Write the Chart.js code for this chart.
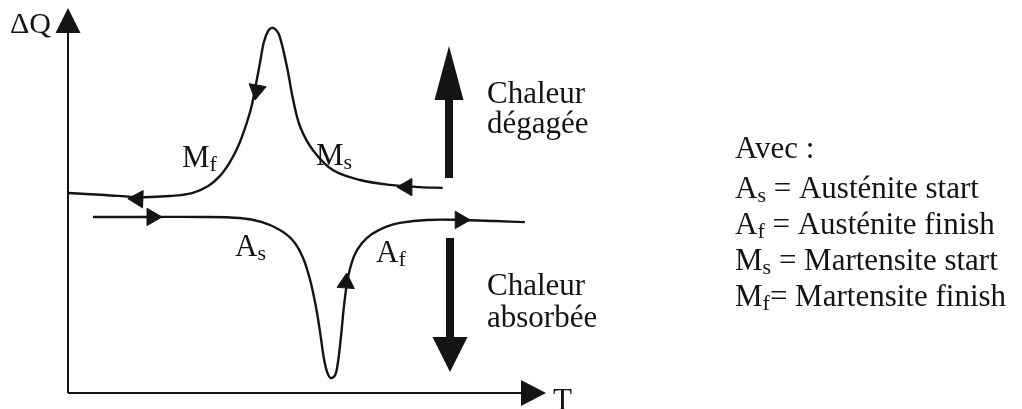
<!DOCTYPE html>
<html>
<head>
<meta charset="utf-8">
<script src="https://cdn.jsdelivr.net/npm/chart.js@4.4.1/dist/chart.umd.min.js"></script>
<style>
html, body { margin: 0; padding: 0; background: #fff; overflow: hidden; }
canvas { display: block; }
</style>
</head>
<body>
<canvas id="dsc" width="1022" height="409"></canvas>
<script>
// Courbe de refroidissement (martensite), parcourue de droite a gauche
var coolT = [79.4, 74.6, 68.2, 61.9, 56.1, 51.9, 49.2, 47.7, 46.4, 44.9, 44.1, 43.2, 42.4, 41.5, 40.7, 39.8, 38.8, 37.5, 36.0, 34.3, 32.2, 29.7, 26.3, 21.6, 15.3, 7.8, 0];
var coolQ = [55.0, 55.2, 55.8, 57.1, 59.8, 65.1, 71.3, 78.6, 87.4, 95.4, 97.3, 97.9, 97.1, 94.1, 88.7, 82.6, 76.4, 71.0, 66.0, 61.9, 58.2, 55.5, 53.6, 52.8, 52.5, 53.1, 53.6];

// Courbe de chauffage (austenite), parcourue de gauche a droite
var heatT = [5.3, 17.4, 28.0, 36.4, 41.1, 44.9, 47.7, 49.8, 51.3, 52.5, 53.4, 54.2, 54.9, 55.7, 56.6, 57.2, 57.8, 58.5, 59.3, 60.6, 62.3, 64.4, 67.2, 70.3, 76.1, 83.1, 90.5, 96.8];
var heatQ = [47.2, 47.2, 47.2, 46.9, 45.8, 43.7, 40.8, 36.2, 30.3, 23.3, 16.4, 9.4, 5.6, 4.0, 4.8, 8.3, 14.7, 23.6, 30.8, 36.7, 40.2, 42.6, 44.5, 45.6, 46.4, 46.4, 46.1, 45.8];

// Fleches de sens de parcours sur les courbes
var coolArrowT = [71.8, 40.0, 14.8];
var coolArrowQ = [55.2, 81.2, 52.0];
var coolArrowRot = [270, 190, 272];
var heatArrowT = [17.8, 58.9, 83.1];
var heatArrowQ = [47.2, 29.5, 46.4];
var heatArrowRot = [90, 4, 90];

var legendLines = [
	['A', 's', ' = Austénite start'],
	['A', 'f', ' = Austénite finish'],
	['M', 's', ' = Martensite start'],
	['M', 'f', '= Martensite finish']
];

function pts(xs, ys) {
	return xs.map(function (x, i) { return {x: x, y: ys[i]}; });
}

var INK = '#141414';
var SERIF = '"Liberation Serif", "Times New Roman", serif';

function subText(ctx, main, sub, x, y, size) {
	ctx.font = size + 'px ' + SERIF;
	ctx.fillText(main, x, y);
	var w = ctx.measureText(main).width;
	var s = Math.round(size * 0.7);
	ctx.font = s + 'px ' + SERIF;
	ctx.fillText(sub, x + w, y + size * 0.14);
	return x + w + ctx.measureText(sub).width;
}

function bigArrow(ctx, x, yStart, yBase, yTip, shaftW, headW) {
	ctx.fillRect(x - shaftW / 2, Math.min(yStart, yBase), shaftW, Math.abs(yBase - yStart));
	ctx.beginPath();
	ctx.moveTo(x - headW / 2, yBase);
	ctx.lineTo(x + headW / 2, yBase);
	ctx.lineTo(x, yTip);
	ctx.closePath();
	ctx.fill();
}

var schema = {
	id: 'schema',
	afterDatasetsDraw: function (chart) {
		var ctx = chart.ctx;
		var xs = chart.scales.x, ys = chart.scales.y;
		var x0 = xs.getPixelForValue(0), y0 = ys.getPixelForValue(0);
		ctx.save();
		ctx.strokeStyle = INK;
		ctx.fillStyle = INK;
		ctx.lineWidth = 2;
		// axes
		ctx.beginPath();
		ctx.moveTo(x0, y0);
		ctx.lineTo(x0, 30);
		ctx.moveTo(x0, y0);
		ctx.lineTo(524, y0);
		ctx.stroke();
		ctx.beginPath();
		ctx.moveTo(x0 - 12.5, 33);
		ctx.lineTo(x0 + 12.5, 33);
		ctx.lineTo(x0, 8);
		ctx.closePath();
		ctx.fill();
		ctx.beginPath();
		ctx.moveTo(521, y0 - 13);
		ctx.lineTo(521, y0 + 13);
		ctx.lineTo(546, y0);
		ctx.closePath();
		ctx.fill();

		// grosses fleches
		bigArrow(ctx, 449, 178, 100, 46, 8, 29);
		bigArrow(ctx, 450, 238, 337, 372, 8, 35);

		// textes
		ctx.textBaseline = 'alphabetic';
		ctx.font = '30px ' + SERIF;
		ctx.fillText('\u0394Q', 10, 33);
		ctx.font = '31px ' + SERIF;
		ctx.fillText('T', 553, 410);
		ctx.fillText('Chaleur', 487, 103);
		ctx.fillText('dégagée', 487, 133);
		ctx.fillText('Chaleur', 487, 295);
		ctx.fillText('absorbée', 487, 327);

		subText(ctx, 'M', 'f', 182, 167, 31);
		subText(ctx, 'M', 's', 316, 165, 31);
		subText(ctx, 'A', 's', 235, 256, 31);
		subText(ctx, 'A', 'f', 376, 262, 31);

		var rows = [198, 234, 270, 306];
		ctx.font = '31px ' + SERIF;
		ctx.fillText('Avec :', 735, 158);
		legendLines.forEach(function (l, i) {
			var xe = subText(ctx, l[0], l[1], 735, rows[i], 31);
			ctx.font = '31px ' + SERIF;
			ctx.fillText(l[2], xe, rows[i]);
		});
		ctx.restore();
	}
};

var curveStyle = {
	showLine: true,
	borderColor: INK,
	borderWidth: 2.4,
	pointRadius: 0,
	tension: 0.35,
	fill: false,
	clip: false
};

new Chart(document.getElementById('dsc'), {
	type: 'scatter',
	data: {
		datasets: [
			Object.assign({label: 'refroidissement', data: pts(coolT, coolQ)}, curveStyle),
			Object.assign({label: 'chauffage', data: pts(heatT, heatQ)}, curveStyle),
			{
				label: 'sens refroidissement',
				data: pts(coolArrowT, coolArrowQ),
				pointStyle: 'triangle',
				pointRadius: 10,
				pointRotation: coolArrowRot,
				backgroundColor: INK,
				borderColor: INK,
				borderWidth: 1,
				clip: false
			},
			{
				label: 'sens chauffage',
				data: pts(heatArrowT, heatArrowQ),
				pointStyle: 'triangle',
				pointRadius: 10,
				pointRotation: heatArrowRot,
				backgroundColor: INK,
				borderColor: INK,
				borderWidth: 1,
				clip: false
			}
		]
	},
	options: {
		responsive: false,
		animation: false,
		devicePixelRatio: 1,
		layout: {padding: {left: 68, right: 482, top: 20, bottom: 16}},
		plugins: {legend: {display: false}, tooltip: {enabled: false}},
		events: [],
		scales: {
			x: {type: 'linear', min: 0, max: 100, display: false},
			y: {type: 'linear', min: 0, max: 100, display: false}
		}
	},
	plugins: [schema]
});
</script>
</body>
</html>
